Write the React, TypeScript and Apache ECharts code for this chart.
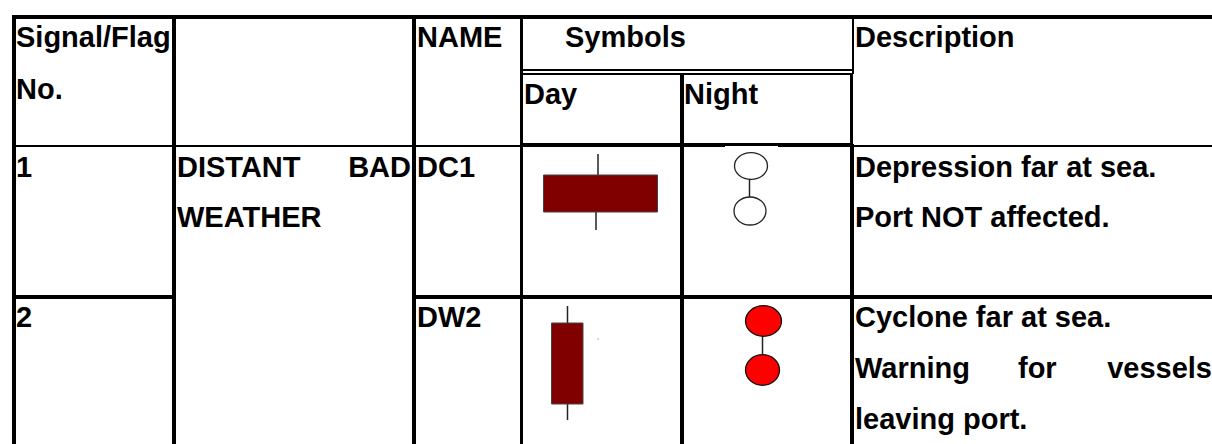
import React, { useEffect, useRef } from "react";
import * as echarts from "echarts";

const FONT = '"Liberation Sans", Arial, sans-serif';

// Table contents
const headerCells = ["Signal/Flag", "No.", "NAME", "Symbols", "Day", "Night", "Description"];
const rowOneCells = ["1", "DISTANT", "BAD", "WEATHER", "DC1", "Depression far at sea.", "Port NOT affected."];
const rowTwoCells = ["2", "DW2", "Cyclone far at sea.", "Warning", "for", "vessels", "leaving port."];

// Day cones: [wick top, body top, body bottom, wick bottom]
const dayOneLevels = [154, 175, 212, 230];
const dayTwoLevels = [306, 323, 404, 420];
// Night lights: centre heights
const nightOneCentres = [166, 211];
const nightTwoCentres = [321, 370];

// Layout, in the hidden axis' pixel-sized units (x, baseline)
const textAnchors: [number, number, string?][] = [
  [16, 45], [16, 97], [417, 45], [565, 45], [524, 102], [684, 102], [855, 45],
  [16, 175], [177, 175], [411, 175, "right"], [177, 225], [417, 175], [855, 175], [855, 225],
  [16, 325], [417, 325], [855, 325], [855, 376], [1018, 376], [1212, 376, "right"], [855, 427],
];
const tableTexts = [...headerCells, ...rowOneCells, ...rowTwoCells];
const BASELINE_SHIFT = 23;

// x0, y0, x1, y1 filled rules
const tableRules = [
  [12, 15, 1212, 19],
  [12, 15, 16, 444],
  [172, 15, 176, 444],
  [412, 15, 416, 444],
  [520, 15, 523, 444],
  [680, 73, 684, 444],
  [852, 15, 854, 74],
  [850, 73, 853, 146],
  [850, 144, 854, 444],
  [522, 69, 852, 71],
  [522, 73, 852, 75],
  [12, 145, 520, 147],
  [520, 143, 725, 147],
  [725, 143, 778, 146],
  [778, 143, 852, 147],
  [852, 145, 1212, 147],
  [12, 295, 176, 299],
  [412, 295, 1212, 299],
];

const dayCones = [
  { levels: dayOneLevels, left: 543.5, right: 657.5, wickTop: 598, wickBottom: 596 },
  { levels: dayTwoLevels, left: 551.5, right: 583, wickTop: 567.5, wickBottom: 567.5 },
];
const strayMark = [598, 339];
const nightLights = [
  { centres: nightOneCentres, xs: [751, 750], rx: [16.5, 16], ry: [13.3, 14], fill: "#ffffff", stroke: "#222222", joint: 749.5 },
  { centres: nightTwoCentres, xs: [763.5, 762.5], rx: [18, 17], ry: [15.3, 15.3], fill: "#ff0000", stroke: "#111111", joint: 762.5 },
];

function rectFrom(api: any, x0: number, y0: number, x1: number, y1: number, style: any) {
  const a = api.coord([x0, y0]);
  const b = api.coord([x1, y1]);
  return { type: "rect", shape: { x: a[0], y: a[1], width: b[0] - a[0], height: b[1] - a[1] }, style };
}

export default function App() {
  const ref = useRef<HTMLDivElement>(null);
  useEffect(() => {
    const chart = echarts.init(ref.current!, undefined, { renderer: "svg" });
    chart.setOption({
      animation: false,
      backgroundColor: "#ffffff",
      grid: { left: 0, right: 0, top: 0, bottom: 0 },
      xAxis: { type: "value", min: 0, max: 1212, show: false },
      yAxis: { type: "value", min: 0, max: 444, inverse: true, show: false },
      tooltip: { show: false },
      series: [
        {
          type: "custom",
          silent: true,
          clip: false,
          data: tableRules.map((r, i) => [i]),
          renderItem: (p: any, api: any) => {
            const r = tableRules[p.dataIndex];
            return rectFrom(api, r[0], r[1], r[2], r[3], { fill: "#000000" });
          },
        },
        {
          type: "custom",
          silent: true,
          clip: false,
          data: dayCones.map((c, i) => [i]),
          renderItem: (p: any, api: any) => {
            const c = dayCones[p.dataIndex];
            const [wt, bt, bb, wb] = c.levels;
            const stem = { fill: "#222222" };
            return {
              type: "group",
              children: [
                rectFrom(api, c.wickTop - 0.75, wt, c.wickTop + 0.75, bt, stem),
                rectFrom(api, c.wickBottom - 0.75, bb, c.wickBottom + 0.75, wb, stem),
                rectFrom(api, c.left, bt, c.right, bb, { fill: "#800000", stroke: "#444444", lineWidth: 1 }),
                ...(p.dataIndex === 1
                  ? [rectFrom(api, strayMark[0] - 0.5, strayMark[1] - 0.5, strayMark[0] + 0.5, strayMark[1] + 0.5, { fill: "#666666" })]
                  : []),
              ],
            };
          },
        },
        {
          type: "custom",
          silent: true,
          clip: false,
          data: nightLights.map((c, i) => [i]),
          renderItem: (p: any, api: any) => {
            const n = nightLights[p.dataIndex];
            const top = api.coord([n.xs[0], n.centres[0]]);
            const bot = api.coord([n.xs[1], n.centres[1]]);
            const ell = (c: number[], i: number) => ({
              type: "ellipse",
              shape: { cx: c[0], cy: c[1], rx: n.rx[i], ry: n.ry[i] },
              style: { fill: n.fill, stroke: n.stroke, lineWidth: 1.3 },
            });
            return {
              type: "group",
              children: [
                rectFrom(api, n.joint - 0.75, n.centres[0] + n.ry[0] - 1, n.joint + 0.75, n.centres[1] - n.ry[1] + 1, { fill: "#222222" }),
                ell(top, 0),
                ell(bot, 1),
              ],
            };
          },
        },
        {
          type: "custom",
          silent: true,
          clip: false,
          data: tableTexts.map((t, i) => [i]),
          renderItem: (p: any, api: any) => {
            const a = textAnchors[p.dataIndex];
            const c = api.coord([a[0], a[1] - BASELINE_SHIFT]);
            return {
              type: "text",
              x: c[0],
              y: c[1],
              style: {
                text: tableTexts[p.dataIndex],
                fill: "#000000",
                font: `bold 29px ${FONT}`,
                textAlign: a[2] || "left",
                verticalAlign: "top",
              },
            };
          },
        },
      ],
    });
    return () => chart.dispose();
  }, []);
  return <div ref={ref} style={{ position: "absolute", left: 0, top: 0, width: 1212, height: 444 }} />;
}
